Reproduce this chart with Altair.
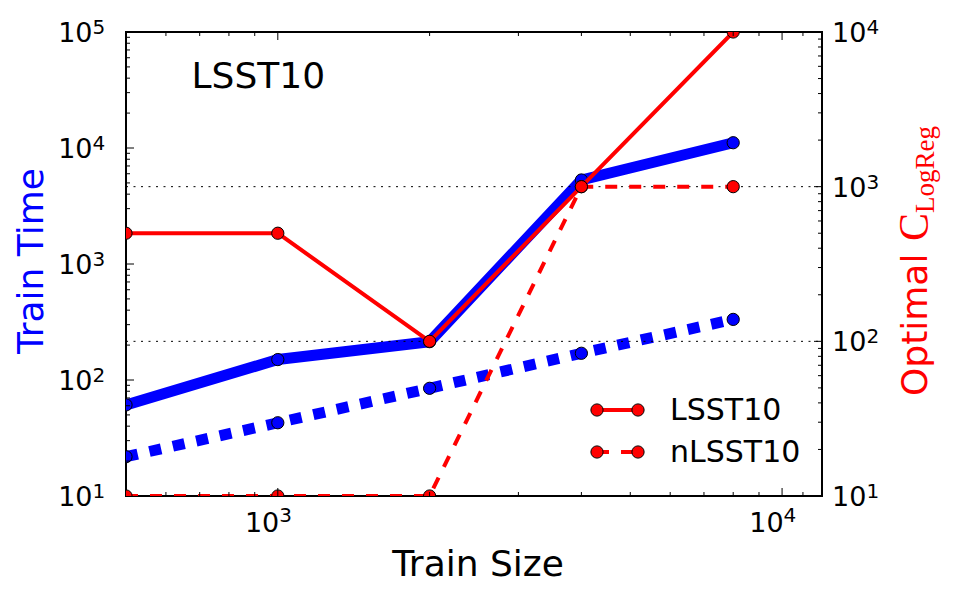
import altair as alt
import pandas as pd

# Training sizes and measured quantities
train_size = [500, 1000, 2000, 4000, 8000]
time_lsst10 = [61, 150, 214, 5300, 11100]
time_nlsst10 = [21.8, 42.8, 84.8, 170, 333]
c_lsst10 = [500, 500, 100, 1000, 10000]
c_nlsst10 = [10, 10, 10, 1000, 1000]

# Tick values and exponent labels
x_major = [1000, 10000]
x_major_exp = ["3", "4"]
x_minor = [600, 700, 800, 900] + [m * 1000 for m in range(2, 10)] + [11000]
left_major = [10, 100, 1000, 10000, 100000]
left_major_exp = ["1", "2", "3", "4", "5"]
right_major = [10, 100, 1000, 10000]
right_major_exp = ["1", "2", "3", "4"]
left_minor = [m * 10 ** k for k in range(1, 5) for m in range(2, 10)]
right_minor = [m * 10 ** k for k in range(1, 4) for m in range(2, 10)]
grid_values = [100, 1000]

SANS = "DejaVu Sans"
SERIF = "Liberation Serif"
BLUE = "#0000ff"
RED = "#ff0000"
W, H = 696, 464
MARKER = 150

xs = alt.Scale(type="log", domain=[500, 12000], nice=False)
yl = alt.Scale(type="log", domain=[10, 100000], nice=False)
yr = alt.Scale(type="log", domain=[10, 10000], nice=False)

X = alt.X("size:Q", scale=xs, axis=None)
YL = alt.Y("value:Q", scale=yl, axis=None)
YR = alt.Y("value:Q", scale=yr, axis=None)


def frame(**cols):
    return pd.DataFrame(cols)


def series(df, y, color, width, dash=None):
    line_kw = dict(color=color, strokeWidth=width, strokeJoin="round", clip=True)
    if dash:
        line_kw["strokeDash"] = dash
    line = alt.Chart(df).mark_line(**line_kw).encode(x=X, y=y)
    pts = alt.Chart(df).mark_circle(
        fill=color, stroke="black", strokeWidth=1, size=MARKER, opacity=1, clip=True
    ).encode(x=X, y=y)
    return [line, pts]


def yticks(values, y, x0, x1):
    return alt.Chart(frame(value=values)).mark_rule(color="black", strokeWidth=1).encode(
        y=y, x=alt.value(x0), x2=alt.value(x1)
    )


def xticks(values, y0, y1):
    return alt.Chart(frame(size=values)).mark_rule(color="black", strokeWidth=1).encode(
        x=X, y=alt.value(y0), y2=alt.value(y1)
    )


one = frame(k=[0])


def note(txt, x, y, size, color="black", font=SANS, angle=0, align="left"):
    return alt.Chart(one).mark_text(
        text=txt, font=font, fontSize=size, color=color, angle=angle,
        align=align, baseline="alphabetic"
    ).encode(x=alt.value(x), y=alt.value(y))


# --- Train time (left axis) ---
t1 = frame(size=train_size, value=time_lsst10)
t2 = frame(size=train_size, value=time_nlsst10)
left_lab = frame(value=left_major, exp=left_major_exp)
left_layers = (
    series(t1, YL, BLUE, 11)
    + series(t2, YL, BLUE, 11, [12, 12])
    + [
        yticks(left_major, YL, 0, 8),
        yticks(left_minor, YL, 0, 4),
        alt.Chart(left_lab).mark_text(
            text="10", font=SANS, fontSize=27, align="right", baseline="alphabetic", dy=10
        ).encode(x=alt.value(-33.5), y=YL),
        alt.Chart(left_lab).mark_text(
            font=SANS, fontSize=20, align="left", baseline="alphabetic", dy=2
        ).encode(x=alt.value(-33.5), y=YL, text="exp:N"),
    ]
)
left_group = alt.layer(*left_layers)

# --- Optimal C (right axis) ---
c1 = frame(size=train_size, value=c_lsst10)
c2 = frame(size=train_size, value=c_nlsst10)
right_lab = frame(value=right_major, exp=right_major_exp)
grid = alt.Chart(frame(value=grid_values)).mark_rule(
    color="black", strokeWidth=1, strokeDash=[2, 5.5]
).encode(y=YR, x=alt.value(0), x2=alt.value(W))
right_layers = (
    [grid]
    + series(c1, YR, RED, 4)
    + series(c2, YR, RED, 4, [12, 12])
    + [
        yticks(right_major, YR, W, W - 8),
        yticks(right_minor, YR, W, W - 4),
        alt.Chart(right_lab).mark_text(
            text="10", font=SANS, fontSize=27, align="left", baseline="alphabetic", dy=10
        ).encode(x=alt.value(706), y=YR),
        alt.Chart(right_lab).mark_text(
            font=SANS, fontSize=20, align="left", baseline="alphabetic", dy=2
        ).encode(x=alt.value(740.5), y=YR, text="exp:N"),
    ]
)
right_group = alt.layer(*right_layers)

# --- Shared x axis, titles and legend ---
x_lab = frame(size=x_major, exp=x_major_exp)
decor = [
    xticks(x_major, H, H - 8),
    xticks(x_minor, H, H - 4),
    xticks(x_major, 0, 8),
    xticks(x_minor, 0, 4),
    alt.Chart(x_lab).mark_text(
        text="10", font=SANS, fontSize=27, align="right", baseline="alphabetic", dx=1.5
    ).encode(x=X, y=alt.value(500)),
    alt.Chart(x_lab).mark_text(
        font=SANS, fontSize=20, align="left", baseline="alphabetic", dx=1.5
    ).encode(x=X, y=alt.value(490), text="exp:N"),
    note("Train Size", 352, 544, 36, align="center"),
    note("Train Time", -83, 229, 36, color=BLUE, angle=270, align="center"),
    note("Optimal", 801, 364, 36, color=RED, angle=270),
    note("C", 802, 209, 42, color=RED, font=SERIF, angle=270),
    note("LogReg", 808, 181, 27, color=RED, font=SERIF, angle=270),
    note("LSST10", 65.5, 56, 36),
]

# legend entries: line sample with a marker at each end, then the label
for row_y, label, dash in [(378, "LSST10", None), (420, "nLSST10", [12, 12])]:
    rule_kw = dict(color=RED, strokeWidth=4)
    if dash:
        rule_kw["strokeDash"] = dash
    decor.append(
        alt.Chart(one).mark_rule(**rule_kw).encode(
            x=alt.value(471), x2=alt.value(512), y=alt.value(row_y)
        )
    )
    for px in (471, 512):
        decor.append(
            alt.Chart(one).mark_circle(
                fill=RED, stroke="black", strokeWidth=1, size=MARKER, opacity=1
            ).encode(x=alt.value(px), y=alt.value(row_y))
        )
    decor.append(note(label, 544, row_y + 10, 30))

chart = (
    alt.layer(left_group, right_group, *decor)
    .resolve_scale(y="independent")
    .properties(
        width=W,
        height=H,
        autosize="none",
        padding={"left": 126, "top": 32, "right": 136, "bottom": 103},
        background="white",
    )
    .configure_view(stroke="black", strokeWidth=2)
)

chart.save("out.html", embed_options={"renderer": "svg", "actions": False})
